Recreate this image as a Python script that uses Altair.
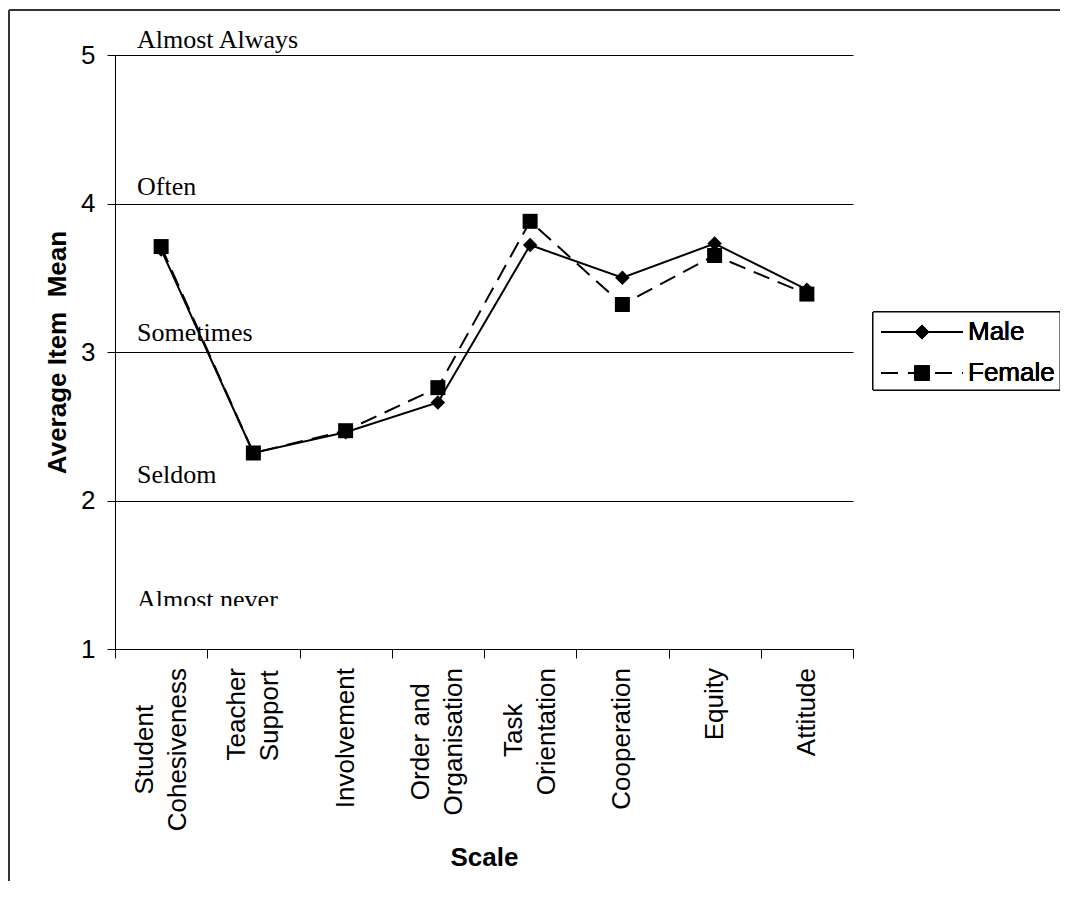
import altair as alt
import pandas as pd

categories = ["Student\nCohesiveness", "Teacher\nSupport", "Involvement", "Order and\nOrganisation",
              "Task\nOrientation", "Cooperation", "Equity", "Attitude"]
male = [3.69, 2.32, 2.46, 2.66, 3.72, 3.50, 3.73, 3.42]
female = [3.71, 2.32, 2.47, 2.76, 3.88, 3.32, 3.65, 3.39]
series = ["Male", "Female"]
level_labels = ["Almost Always", "Often", "Sometimes", "Seldom", "Almost never"]
level_values = [5.10, 4.11, 3.13, 2.17, 1.33]
y_ticks = [1, 2, 3, 4, 5]

rows = []
for i, c in enumerate(categories):
    rows.append({"cat": c, "pos": i + 0.5, "series": series[0], "value": male[i]})
    rows.append({"cat": c, "pos": i + 0.5, "series": series[1], "value": female[i]})
df = pd.DataFrame(rows)
lvl_df = pd.DataFrame({"label": level_labels, "value": level_values})

SANS = "Liberation Sans"
SERIF = "Liberation Serif"
FS = 26
LH = 33
LABEL_TOP = 613  # pixel offset below the plot top where the labels start

# Arial / Liberation Sans advance widths (1/1000 em), used to centre the
# lines of a two-line category label on each other, as in the original.
_W = {" ": 278, "A": 667, "C": 722, "E": 667, "I": 278, "O": 778, "S": 667, "T": 611,
      "a": 556, "c": 500, "d": 556, "e": 556, "g": 556, "h": 556, "i": 222, "k": 500,
      "l": 222, "m": 833, "n": 556, "o": 556, "p": 556, "q": 556, "r": 333, "s": 500,
      "t": 278, "u": 556, "v": 500, "y": 500}


def text_width(s):
    return sum(_W.get(ch, 556) for ch in s) * FS / 1000.0


line_rows = []
for i, c in enumerate(categories):
    parts = c.split("\n")
    widest = max(text_width(p) for p in parts)
    for k, p in enumerate(parts):
        kind = "single" if len(parts) == 1 else ("first" if k == 0 else "second")
        line_rows.append({"line": p, "pos": i + 0.5, "kind": kind,
                          "ytop": LABEL_TOP + (widest - text_width(p)) / 2})
lab_df = pd.DataFrame(line_rows)

x_enc = alt.X("pos:Q",
              scale=alt.Scale(domain=[0, len(categories)], nice=False, zero=False),
              axis=alt.Axis(values=list(range(len(categories) + 1)), labels=False, grid=False,
                            tickSize=9, tickColor="black", domainColor="black",
                            title="Scale", titleFont=SANS, titleFontSize=FS, titleFontWeight="bold",
                            titleColor="black", titlePadding=186))
y_enc = alt.Y("value:Q",
              scale=alt.Scale(domain=[1, 5], nice=False, zero=False),
              axis=alt.Axis(values=y_ticks, grid=True, gridColor="black", gridWidth=1, gridOpacity=1,
                            tickSize=8, tickColor="black", domainColor="black",
                            labelFont=SANS, labelFontSize=FS, labelColor="black", labelPadding=12,
                            title="Average Item\u00a0 Mean", titleFont=SANS, titleFontSize=FS,
                            titleFontWeight="bold", titleColor="black", titlePadding=10))

base = alt.Chart(df)
male_line = base.transform_filter(alt.datum.series == series[0]).mark_line(
    color="black", strokeWidth=2).encode(x=x_enc, y=y_enc)
male_pts = base.transform_filter(alt.datum.series == series[0]).mark_point(
    shape="diamond", filled=True, size=210, color="black", opacity=1).encode(x=x_enc, y=y_enc)
fem_line = base.transform_filter(alt.datum.series == series[1]).mark_line(
    color="black", strokeWidth=2, strokeDash=[17, 9]).encode(x=x_enc, y=y_enc)
fem_pts = base.transform_filter(alt.datum.series == series[1]).mark_point(
    shape="square", filled=True, size=225, color="black", opacity=1).encode(x=x_enc, y=y_enc)


def label_layer(kind, dy):
    return alt.Chart(lab_df).transform_filter(alt.datum.kind == kind).mark_text(
        angle=270, align="right", baseline="middle", dy=dy,
        font=SANS, fontSize=FS, color="black").encode(
        x=x_enc, y=alt.Y("ytop:Q", scale=None), text="line:N")


cat_single = label_layer("single", 0)
cat_first = label_layer("first", -LH / 2)
cat_second = label_layer("second", LH / 2)

levels = alt.Chart(lvl_df).mark_text(
    align="left", baseline="middle", font=SERIF, fontSize=FS, color="black").encode(
    x=alt.value(22), y=y_enc, text="label:N")
level_clip = alt.Chart(lvl_df).mark_rect(fill="white").encode(
    x=alt.value(15), x2=alt.value(200), y=alt.value(551), y2=alt.value(578))

# outer frame (top and left edges visible)
frame_top = alt.Chart(lvl_df).mark_rule(color="#333", strokeWidth=2).encode(
    x=alt.value(-106), x2=alt.value(960), y=alt.value(-45))
frame_left = alt.Chart(lvl_df).mark_rule(color="#333", strokeWidth=2).encode(
    x=alt.value(-106), y=alt.value(-45), y2=alt.value(860))

# legend
leg_box = alt.Chart(lvl_df).mark_rect(fill="white", stroke="black", strokeWidth=1).encode(
    x=alt.value(758), x2=alt.value(945), y=alt.value(257), y2=alt.value(335))
leg_m_line = alt.Chart(lvl_df).mark_rule(color="black", strokeWidth=2).encode(
    x=alt.value(766), x2=alt.value(848), y=alt.value(277))
leg_m_pt = alt.Chart(lvl_df).mark_point(shape="diamond", filled=True, size=210, color="black", opacity=1).encode(
    x=alt.value(807), y=alt.value(277))
leg_m_txt = alt.Chart(lvl_df).mark_text(align="left", baseline="middle", font=SANS, fontSize=FS, color="black").encode(
    x=alt.value(853), y=alt.value(277), text=alt.value(series[0]))
leg_f_line = alt.Chart(lvl_df).mark_rule(color="black", strokeWidth=2, strokeDash=[17, 10]).encode(
    x=alt.value(766), x2=alt.value(848), y=alt.value(318))
leg_f_pt = alt.Chart(lvl_df).mark_point(shape="square", filled=True, size=225, color="black", opacity=1).encode(
    x=alt.value(807), y=alt.value(318))
leg_f_txt = alt.Chart(lvl_df).mark_text(align="left", baseline="middle", font=SANS, fontSize=FS, color="black").encode(
    x=alt.value(853), y=alt.value(318), text=alt.value(series[1]))

chart = alt.layer(
    frame_top, frame_left, levels, level_clip,
    male_line, fem_line, male_pts, fem_pts, cat_single, cat_first, cat_second,
    leg_box, leg_m_line, leg_m_pt, leg_m_txt, leg_f_line, leg_f_pt, leg_f_txt
).properties(
    width=738, height=594,
    autosize=alt.AutoSizeParams(type="none"),
    padding={"left": 107, "top": 47, "right": 207, "bottom": 232},
    background="white"
).configure_view(stroke=None)

chart.save("out.html", embed_options={"renderer": "svg", "actions": False})
